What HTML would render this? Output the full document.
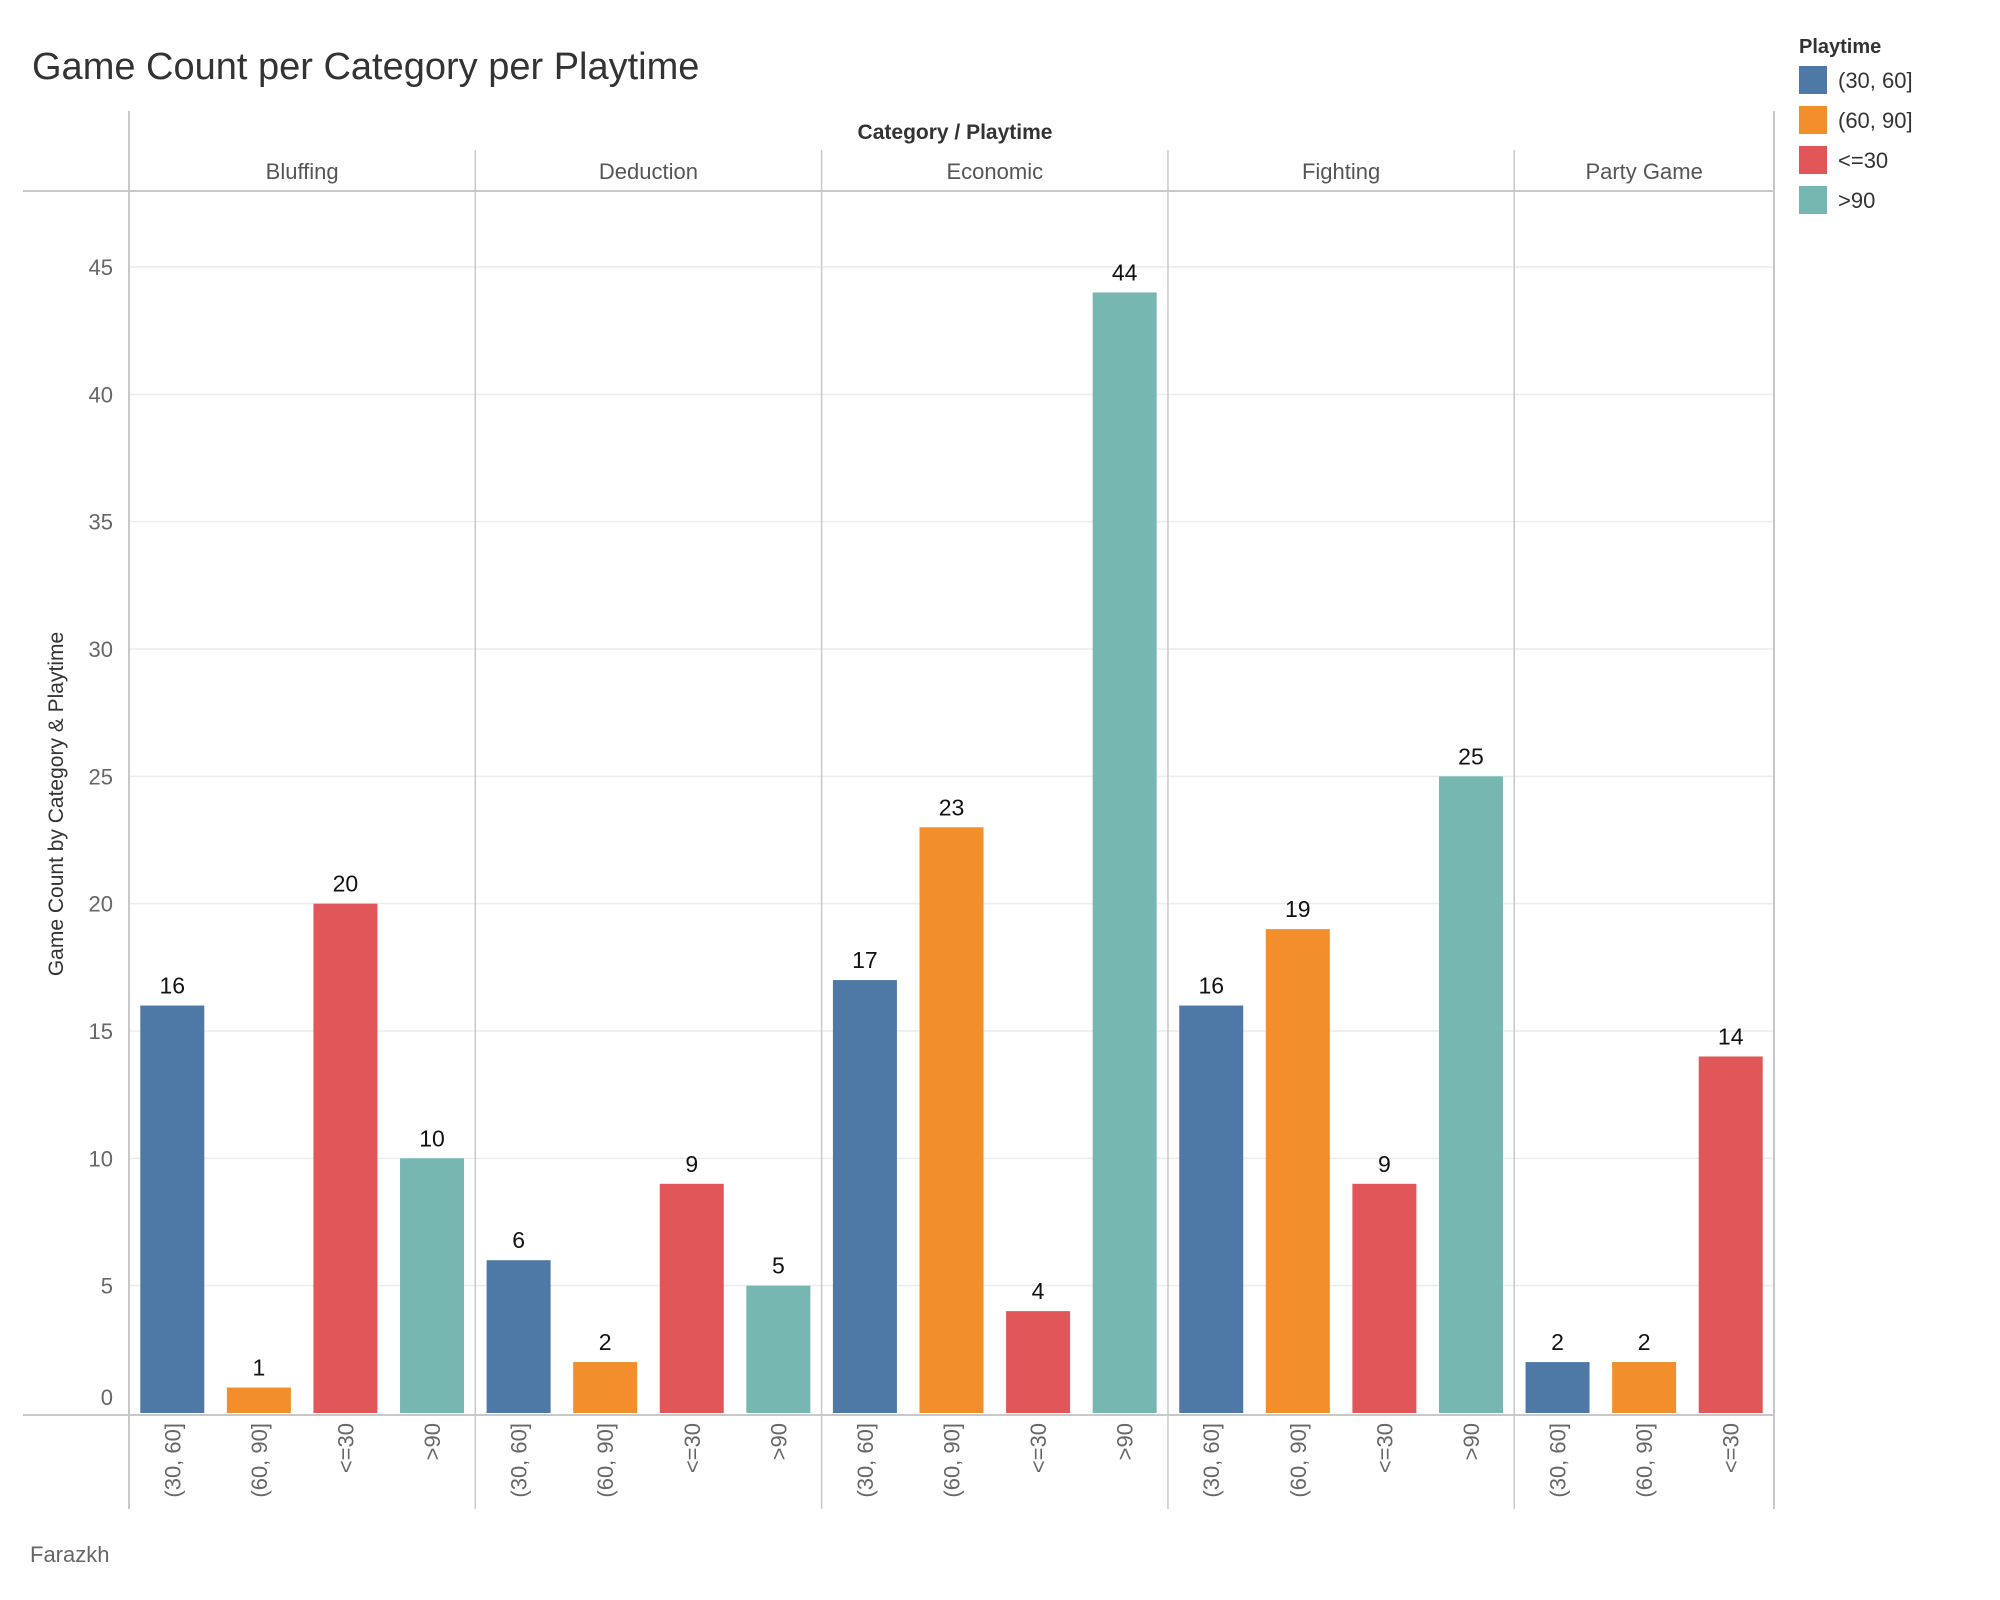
<!DOCTYPE html>
<html><head><meta charset="utf-8">
<style>
html,body{margin:0;padding:0;background:#fff;width:2000px;height:1600px;overflow:hidden}
svg{display:block;font-family:"Liberation Sans",sans-serif}
</style></head>
<body>
<svg id="chart" width="2000" height="1600" viewBox="0 0 2000 1600">
<text x="32" y="79" font-size="38" fill="#333">Game Count per Category per Playtime</text>
<text x="955" y="139" font-size="21" font-weight="bold" fill="#333" text-anchor="middle">Category / Playtime</text>
<text x="63" y="804" font-size="21" fill="#333" text-anchor="middle" transform="rotate(-90 63 804)">Game Count by Category &amp; Playtime</text>
<text x="30" y="1562" font-size="22" fill="#666">Farazkh</text>
<g id="legend">
<text x="1799" y="53" font-size="20" font-weight="bold" fill="#333">Playtime</text>
</g>
<g id="plot"></g>
</svg>
<script>
const categories = ["Bluffing","Deduction","Economic","Fighting","Party Game"];
const playtimes = ["(30, 60]","(60, 90]","<=30",">90"];
const colors = ["#4e79a7","#f28e2b","#e15759","#76b7b2"];
const valsBluffing = [16,1,20,10];
const valsDeduction = [6,2,9,5];
const valsEconomic = [17,23,4,44];
const valsFighting = [16,19,9,25];
const valsParty = [2,2,14];
const yTicks = [0,5,10,15,20,25,30,35,40,45];

const allVals = [valsBluffing,valsDeduction,valsEconomic,valsFighting,valsParty];
const NS="http://www.w3.org/2000/svg";
const plot=document.getElementById('plot');
const left=129, right=1774, y0=1413, yTopVal=45, yTopPx=267;
const totalSlots=allVals.reduce((a,v)=>a+v.length,0);
const slotW=(right-left)/totalSlots;
function y(v){return y0-(v/yTopVal)*(y0-yTopPx);}
function mk(tag,attrs,parent){const e=document.createElementNS(NS,tag);for(const k in attrs)e.setAttribute(k,attrs[k]);(parent||plot).appendChild(e);return e;}

yTicks.forEach(t=>{
  if(t>0){const g=mk('line',{x1:left,x2:right,y1:y(t),y2:y(t),stroke:'#ececec','stroke-width':1.5});
  
  }
  const ty = t===0 ? y(t)-8 : y(t)+8;
  const tx=mk('text',{x:113,y:ty,'font-size':22,fill:'#666','text-anchor':'end'});
  tx.textContent=t;
  
  
});

const frame=[[left,111,left,1509],[right,111,right,1509],[23,191,right,191],[23,y0+2,right,y0+2]];
frame.forEach(f=>{const l=mk('line',{x1:f[0],y1:f[1],x2:f[2],y2:f[3],stroke:'#c8c8c8','stroke-width':2});

});

let slot=0;
categories.forEach((c,ci)=>{
  const vals=allVals[ci];
  const px0=left+slot*slotW, px1=px0+vals.length*slotW;
  if(ci>0){const d=mk('line',{x1:px0,x2:px0,y1:150,y2:1509,stroke:'#c8c8c8','stroke-width':1.5});
  
  }
  const h=mk('text',{x:(px0+px1)/2,y:179,'font-size':22,fill:'#555','text-anchor':'middle'});
  h.textContent=c;
  
  
  vals.forEach((v,i)=>{
    const cx=px0+(i+0.5)*slotW;
    const r=mk('rect',{x:cx-32,y:y(v),width:64,height:y0-y(v),fill:colors[i]});
    
    
    const lt=mk('text',{x:cx,y:y(v)-12,'font-size':23,fill:'#111','text-anchor':'middle'});
    lt.textContent=v;
    
    
    const xl=mk('text',{x:0,y:0,'font-size':22,fill:'#666','text-anchor':'end',transform:`translate(${cx+8},1423) rotate(-90)`});
    xl.textContent=playtimes[i];
    
    
  });
  slot+=vals.length;
});

const lg=document.getElementById('legend');
playtimes.forEach((p,i)=>{
  const cy=80+i*40;
  const s=mk('rect',{x:1799,y:cy-14,width:28,height:28,fill:colors[i]},lg);
  
  
  const t=mk('text',{x:1838,y:cy+8,'font-size':22,fill:'#333'},lg);
  t.textContent=p;
  
  
});
</script>
</body></html>
